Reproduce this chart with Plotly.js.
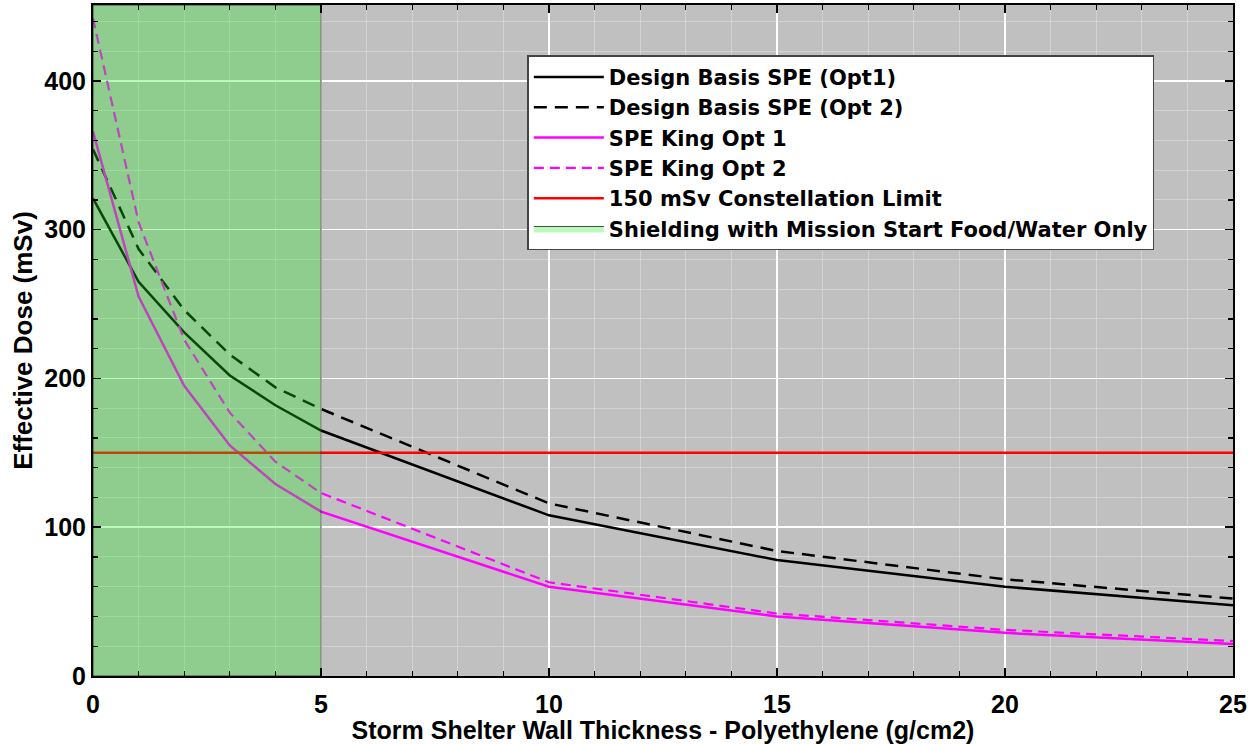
<!DOCTYPE html>
<html>
<head>
<meta charset="utf-8">
<script src="https://cdn.plot.ly/plotly-3.0.1.min.js"></script>
<style>html,body{margin:0;padding:0;background:#fff;}#chart{width:1259px;height:744px;}</style>
</head>
<body>
<div id="chart"></div>
<script>
// Wall thickness (g/cm2)
const thickness = [0, 1, 2, 3, 4, 5, 10, 15, 20, 25];
// Effective dose (mSv)
const designBasisOpt1 = [321, 265, 231, 202, 182, 165, 108, 78, 60, 47.5];
const designBasisOpt2 = [354, 287, 246, 216, 194, 179.5, 116, 84, 65, 52];
const kingOpt1 = [366, 255, 195, 155, 129, 110.5, 60, 40, 29, 21.5];
const kingOpt2 = [442, 305, 226, 177, 144, 123, 63, 42, 31, 23.5];
const limitDose = 150;
const limitX = [0, 25];
const shieldingThickness = [0, 5];
const xRange = [0, 25];
const yRange = [0, 451];

const seriesNames = [
  "Design Basis SPE (Opt1)",
  "Design Basis SPE (Opt 2)",
  "SPE King Opt 1",
  "SPE King Opt 2",
  "150 mSv Constellation Limit",
  "Shielding with Mission Start Food/Water Only"
];

const traces = [
  {x: thickness, y: designBasisOpt1, name: seriesNames[0], mode: "lines",
   line: {color: "#000000", width: 2.5}},
  {x: thickness, y: designBasisOpt2, name: seriesNames[1], mode: "lines",
   line: {color: "#000000", width: 2.5, dash: "13px,8px"}},
  {x: thickness, y: kingOpt1, name: seriesNames[2], mode: "lines",
   line: {color: "#ff00ff", width: 2.5}},
  {x: thickness, y: kingOpt2, name: seriesNames[3], mode: "lines",
   line: {color: "#ff00ff", width: 2.2, dash: "10px,6px"}},
  {x: limitX, y: [limitDose, limitDose], name: seriesNames[4], mode: "lines",
   line: {color: "#ff0000", width: 2.5}},
  {x: [shieldingThickness[0], shieldingThickness[1], shieldingThickness[1], shieldingThickness[0], shieldingThickness[0]],
   y: [yRange[0], yRange[0], yRange[1], yRange[1], yRange[0]],
   name: seriesNames[5], mode: "lines", fill: "toself",
   fillcolor: "rgba(30,235,30,0.3)",
   line: {color: "rgba(40,40,40,0.85)", width: 1}, hoverinfo: "skip"}
];

const fontFam = "Liberation Sans, Arial, sans-serif";
const legendFam = "DejaVu Sans, Verdana, sans-serif";

const layout = {
  width: 1259, height: 744,
  margin: {l: 93, r: 26, t: 5, b: 68},
  paper_bgcolor: "#ffffff",
  plot_bgcolor: "#c0c0c0",
  font: {family: fontFam, size: 25, color: "#000", weight: "bold"},
  showlegend: true,
  legend: {
    x: 0.381, y: 0.925, xanchor: "left", yanchor: "top",
    bgcolor: "#ffffff", bordercolor: "#444444", borderwidth: 1.5,
    font: {family: legendFam, size: 21, color: "#000", weight: "bold"},
    tracegroupgap: 0, itemwidth: 70
  },
  xaxis: {
    range: xRange, dtick: 5, tick0: 0,
    showline: true, linecolor: "#000", linewidth: 2, mirror: "allticks",
    ticks: "inside", ticklen: 8, tickwidth: 1.5, tickcolor: "#000",
    ticklabelstandoff: 5,
    showgrid: true, gridcolor: "#ffffff", gridwidth: 1.5,
    zeroline: false,
    tickfont: {family: fontFam, size: 25, color: "#000", weight: "bold"},
    minor: {dtick: 1, ticks: "inside", ticklen: 5, tickcolor: "#000", tickwidth: 1.2,
            showgrid: true, gridcolor: "rgba(255,255,255,0.3)", gridwidth: 1},
    title: {text: "Storm Shelter Wall Thickness - Polyethylene (g/cm2)",
            font: {family: fontFam, size: 25, color: "#000", weight: "bold"}, standoff: 0}
  },
  yaxis: {
    range: yRange, dtick: 100, tick0: 0,
    showline: true, linecolor: "#000", linewidth: 2, mirror: "allticks",
    ticks: "inside", ticklen: 8, tickwidth: 1.5, tickcolor: "#000",
    showgrid: true, gridcolor: "#ffffff", gridwidth: 1.5,
    zeroline: false,
    tickfont: {family: fontFam, size: 25, color: "#000", weight: "bold"},
    minor: {dtick: 20, ticks: "inside", ticklen: 5, tickcolor: "#000", tickwidth: 1.2,
            showgrid: true, gridcolor: "rgba(255,255,255,0.3)", gridwidth: 1},
    title: {text: "Effective Dose (mSv)",
            font: {family: fontFam, size: 26, color: "#000", weight: "bold"}, standoff: 4}
  }
};

Plotly.newPlot("chart", traces, layout, {displayModeBar: false, staticPlot: true});
</script>
</body>
</html>
